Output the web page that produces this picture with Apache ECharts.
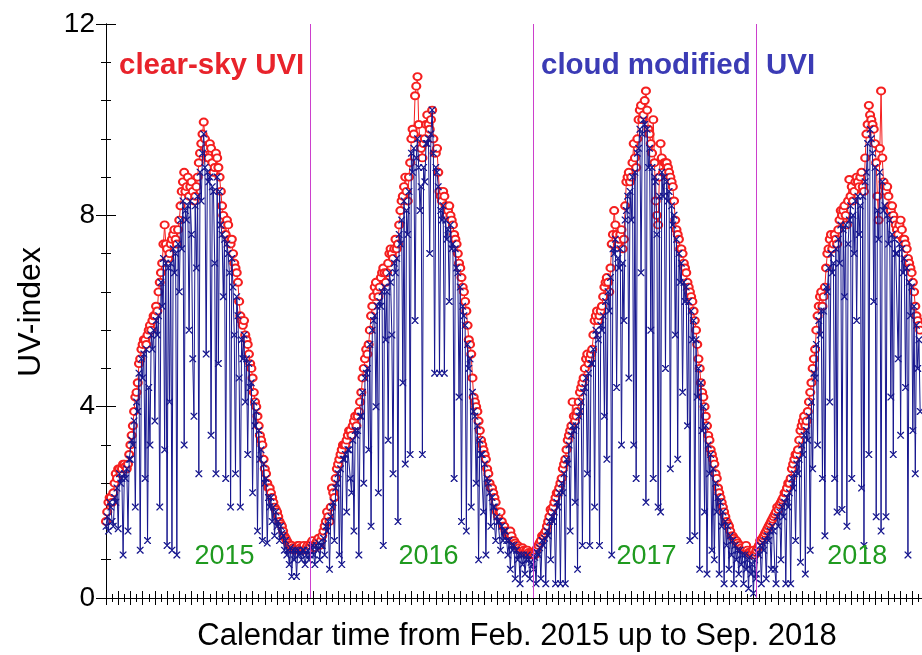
<!DOCTYPE html>
<html>
<head>
<meta charset="utf-8">
<script src="https://cdn.jsdelivr.net/npm/echarts@6/dist/echarts.min.js"></script>
<style>
  html, body { margin: 0; padding: 0; background: #fff; }
  #chart { width: 922px; height: 655px; }
</style>
</head>
<body>
<div id="chart"></div>
<script>
// x is in days since 1 Feb 2015; every season array holds one value per STEP days
const STEP = 2;
const seasonStart = [0, 334, 700, 1065];
const yearBoundaries = [334, 700, 1065]; // 1 Jan 2016 / 2017 / 2018
const yearLabels = ['2015', '2016', '2017', '2018'];
const yearLabelDay = [194, 528, 885, 1230];

const clear2015 = [
  1.6, 1.8, 2.0, 2.1, 2.1, 2.0, 2.2, 2.4, 2.6, 2.5, 2.7, 2.7, 2.6, 2.7, 2.8, 2.8, 2.75, 2.7, 2.8, 3.0,
  3.2, 3.4, 3.6, 3.9, 4.2, 4.3, 4.5, 4.9, 5.0, 5.2, 5.3, 5.4, 5.4, 5.3, 5.5, 5.6, 5.7, 5.6, 5.8, 5.9,
  5.9, 6.1, 6.0, 6.4, 6.6, 6.8, 7.0, 7.4, 7.8, 7.4, 7.3, 7.1, 7.2, 7.4, 7.5, 7.6, 7.7, 7.5, 7.4, 7.7,
  7.9, 8.2, 8.5, 8.7, 8.9, 8.5, 8.6, 8.8, 8.4, 8.6, 8.7, 8.5, 8.3, 8.4, 8.6, 8.8, 9.1, 9.3, 9.5, 9.7,
  9.95, 9.6, 9.4, 9.2, 9.2, 9.5, 9.4, 9.1, 8.9, 9.0, 9.3, 9.2, 9.0, 8.8, 8.5, 8.2, 8.0, 7.8, 7.6, 7.9,
  7.8, 7.5, 7.4, 7.5, 7.2, 7.0, 6.9, 6.8, 6.6, 6.2, 5.9, 5.8, 5.7, 5.8, 5.5, 5.4, 5.3, 5.1, 4.9, 4.8,
  4.6, 4.3, 4.1, 4.0, 3.8, 3.6, 3.4, 3.3, 3.2, 2.9, 2.7, 2.6, 2.4, 2.3, 2.3, 2.2, 2.1, 2.0, 1.9, 1.85,
  1.8, 1.7, 1.6, 1.55, 1.5, 1.4, 1.3, 1.25, 1.2, 1.15, 1.1, 1.1, 1.1, 1.05, 1.0, 1.0, 1.05, 1.1, 1.1, 1.05,
  1.0, 1.05, 1.1, 1.0, 1.05, 1.1, 1.0
];
const cloud2015 = [
  1.5, 1.7, 1.4, 2.0, 1.9, 1.6, 1.5, 2.1, 2.0, 2.3, 1.45, 2.6, 2.4, 2.5, 0.9, 2.6, 2.5, 2.7, 1.4, 2.9,
  2.9, 3.3, 3.2, 3.7, 1.9, 4.1, 3.9, 4.7, 1.0, 5.0, 4.6, 5.1, 2.5, 5.2, 1.2, 4.4, 3.2, 5.5, 5.2, 5.6,
  3.7, 5.8, 5.5, 5.9, 1.9, 6.6, 6.1, 7.1, 3.1, 7.0, 1.1, 6.9, 4.1, 7.0, 1.0, 7.3, 6.8, 7.2, 0.9, 7.4,
  6.4, 7.9, 7.3, 8.3, 3.2, 8.1, 7.9, 8.2, 5.6, 8.3, 7.6, 5.0, 3.8, 8.2, 6.9, 8.4, 2.6, 8.9, 8.3, 9.3,
  9.7, 9.0, 5.1, 8.9, 8.7, 8.8, 3.4, 8.6, 8.5, 7.0, 2.6, 8.8, 4.9, 8.5, 7.8, 7.6, 6.3, 7.5, 2.5, 7.4,
  7.2, 6.8, 1.9, 7.1, 6.5, 5.5, 2.6, 6.3, 5.9, 4.6, 1.9, 5.4, 5.0, 5.5, 4.1, 5.0, 3.0, 4.9, 4.4, 4.5,
  2.2, 4.1, 3.6, 3.9, 1.4, 3.5, 2.9, 3.1, 1.2, 2.8, 2.4, 2.5, 1.15, 2.1, 1.9, 2.1, 1.6, 1.9, 1.3, 1.8,
  1.5, 1.6, 1.2, 1.5, 1.35, 1.3, 1.0, 1.2, 0.9, 1.0, 0.7, 1.05, 0.45, 1.0, 0.8, 1.0, 0.45, 1.0, 0.9, 0.95,
  0.8, 1.0, 1.0, 0.7, 0.9, 1.0, 0.8
];
const clear2016 = [
  1.1, 1.15, 1.2, 1.1, 1.05, 1.15, 1.2, 1.25, 1.1, 1.2, 1.3, 1.4, 1.5, 1.6, 1.8, 1.7, 1.6, 1.9, 2.3, 2.2,
  2.1, 2.5, 2.7, 2.8, 2.9, 3.0, 3.1, 3.2, 3.2, 3.2, 3.3, 3.4, 3.5, 3.5, 3.4, 3.6, 3.7, 3.8, 3.6, 3.8,
  3.9, 4.1, 4.3, 4.6, 4.8, 5.0, 5.2, 5.1, 5.3, 5.6, 5.9, 6.1, 6.3, 6.5, 6.6, 6.4, 6.3, 6.5, 6.7, 6.8,
  6.9, 6.8, 6.6, 6.8, 7.0, 7.2, 7.3, 7.2, 7.1, 7.3, 7.5, 7.3, 7.4, 7.8, 8.1, 8.3, 8.4, 8.6, 8.8, 8.5,
  8.3, 8.8, 9.1, 9.6, 9.8, 9.7, 10.5, 10.7, 10.9, 9.9, 9.6, 9.4, 9.2, 9.5, 9.6, 9.9, 10.1, 9.9, 9.8, 10.0,
  10.2, 9.6, 9.3, 9.3, 9.4, 8.9, 8.5, 8.4, 8.3, 8.5, 8.4, 8.2, 8.0, 8.1, 8.2, 8.0, 7.9, 7.8, 7.6, 7.5,
  7.4, 7.2, 7.0, 6.9, 6.7, 6.5, 6.4, 6.2, 6.0, 5.7, 5.4, 5.3, 5.1, 4.6, 4.2, 4.1, 4.0, 3.9, 3.7, 3.5,
  3.3, 3.2, 3.1, 3.0, 2.9, 2.7, 2.6, 2.4, 2.3, 2.3, 2.2, 2.1, 2.0, 1.8, 1.7, 1.8, 1.8, 1.6, 1.5, 1.5,
  1.4, 1.35, 1.3, 1.35, 1.4, 1.3, 1.2, 1.2, 1.15, 1.1, 1.1, 1.05, 1.0, 1.0, 1.05, 1.0, 0.95, 1.0, 1.0, 0.95,
  0.9, 0.95, 0.95
];
const cloud2016 = [
  0.9, 1.05, 1.1, 0.9, 0.7, 1.1, 1.0, 1.15, 0.8, 1.1, 1.1, 1.25, 0.9, 1.5, 1.4, 1.6, 0.6, 1.7, 1.9, 2.0,
  1.2, 2.3, 2.4, 2.6, 0.9, 2.7, 0.7, 2.9, 2.9, 3.0, 1.8, 3.1, 3.1, 2.5, 2.2, 3.3, 1.4, 3.5, 3.4, 3.5,
  0.9, 3.8, 3.8, 4.3, 2.4, 4.6, 4.7, 4.8, 3.1, 5.3, 1.5, 5.6, 5.8, 5.9, 4.0, 6.1, 2.2, 6.2, 6.1, 6.4,
  1.1, 6.5, 5.4, 6.4, 3.3, 6.8, 6.6, 5.5, 2.6, 7.0, 6.8, 7.1, 1.6, 7.6, 7.4, 7.9, 4.5, 8.3, 2.8, 8.1,
  7.6, 8.5, 3.0, 9.3, 8.9, 9.4, 5.8, 9.2, 9.6, 9.0, 8.1, 8.6, 3.0, 9.0, 8.7, 9.5, 9.5, 9.6, 7.2, 9.7,
  10.2, 9.3, 4.7, 9.0, 8.9, 8.6, 4.7, 8.1, 7.9, 8.2, 4.7, 7.9, 7.5, 7.7, 6.2, 7.8, 7.3, 7.4, 2.5, 7.3,
  6.9, 6.8, 4.2, 6.5, 1.6, 6.1, 5.9, 5.7, 1.4, 5.3, 4.8, 5.0, 1.9, 4.3, 3.9, 3.8, 2.4, 3.6, 0.8, 3.3,
  3.0, 3.0, 1.8, 2.8, 0.9, 2.5, 2.4, 2.2, 1.5, 2.1, 1.9, 1.9, 1.2, 1.7, 1.6, 1.6, 1.0, 1.5, 1.2, 1.4,
  1.4, 1.2, 0.9, 1.2, 0.6, 1.1, 1.0, 1.1, 0.4, 1.0, 0.8, 0.9, 0.3, 0.9, 0.7, 0.9, 0.5, 0.8, 0.9, 0.8,
  0.4, 0.75, 0.7
];
const clear2017 = [
  0.95, 0.9, 1.0, 1.05, 1.1, 1.15, 1.2, 1.3, 1.3, 1.35, 1.4, 1.5, 1.6, 1.7, 1.85, 1.8, 1.9, 2.0, 2.1, 2.2,
  2.2, 2.3, 2.4, 2.5, 2.7, 2.8, 2.9, 3.1, 3.3, 3.4, 3.5, 3.6, 4.1, 3.8, 3.7, 3.8, 3.9, 4.1, 4.3, 4.4,
  4.5, 4.6, 4.8, 5.0, 5.1, 4.9, 5.0, 5.1, 5.2, 5.5, 5.8, 5.9, 6.0, 5.8, 5.9, 6.0, 6.1, 6.3, 6.5, 6.6,
  6.7, 6.6, 6.4, 6.9, 7.4, 7.6, 8.1, 7.8, 7.6, 7.4, 7.5, 7.6, 7.7, 7.3, 7.5, 8.2, 8.7, 8.8, 8.9, 8.7,
  8.8, 9.1, 9.5, 9.2, 9.0, 9.6, 10.0, 10.2, 10.3, 10.0, 10.1, 10.4, 10.6, 10.2, 9.8, 9.7, 9.5, 9.3, 10.0, 9.1,
  8.3, 8.0, 7.8, 8.8, 9.5, 9.2, 8.9, 9.1, 9.1, 9.1, 9.0, 8.9, 8.8, 8.7, 8.6, 8.3, 7.9, 7.7, 7.6, 7.5,
  7.3, 7.3, 7.2, 7.0, 6.9, 6.8, 6.6, 6.5, 6.4, 6.3, 6.2, 6.0, 5.8, 5.6, 5.3, 5.0, 4.8, 4.5, 4.3, 4.2,
  4.0, 3.8, 3.6, 3.4, 3.3, 3.1, 3.0, 2.9, 2.8, 2.6, 2.5, 2.3, 2.2, 2.1, 2.0, 1.9, 1.8, 1.7, 1.6, 1.55,
  1.5, 1.4, 1.3, 1.3, 1.25, 1.2, 1.2, 1.15, 1.1, 1.1, 1.05, 1.0, 1.0, 1.05, 1.1, 1.0, 0.95, 0.95, 0.9, 0.95,
  1.0, 0.9, 0.95
];
const cloud2017 = [
  0.6, 0.85, 0.3, 0.95, 0.9, 1.05, 0.4, 1.2, 1.1, 1.25, 0.3, 1.4, 1.3, 1.6, 0.8, 1.7, 1.6, 1.8, 0.3, 2.0,
  1.9, 2.2, 0.3, 2.4, 2.2, 2.6, 0.3, 2.9, 2.8, 3.2, 1.4, 3.4, 3.6, 3.5, 2.0, 3.6, 0.6, 3.8, 3.9, 4.1,
  1.1, 4.3, 4.4, 4.6, 2.6, 4.7, 1.1, 4.9, 4.9, 5.2, 1.9, 5.6, 5.5, 5.4, 1.1, 5.7, 5.6, 5.9, 3.8, 6.2,
  2.9, 6.4, 6.0, 6.7, 0.9, 7.3, 7.2, 7.5, 4.4, 7.1, 6.9, 7.3, 3.2, 7.0, 5.8, 7.9, 8.1, 8.4, 4.6, 8.5,
  7.9, 8.8, 3.2, 8.9, 2.5, 9.3, 9.4, 9.8, 6.8, 9.7, 10.0, 9.9, 2.0, 9.8, 9.0, 9.4, 5.6, 9.0, 2.5, 8.8,
  8.7, 7.6, 1.9, 8.4, 1.8, 8.9, 8.4, 8.8, 4.8, 8.7, 8.3, 8.5, 2.7, 8.2, 7.8, 8.0, 5.5, 7.5, 2.9, 7.2,
  6.6, 7.0, 4.3, 6.6, 6.2, 6.5, 3.6, 6.2, 1.2, 6.0, 5.4, 5.8, 1.3, 5.4, 4.2, 4.8, 0.6, 4.5, 3.5, 4.0,
  1.8, 3.6, 0.5, 3.2, 2.6, 3.0, 1.0, 2.7, 0.8, 2.4, 1.8, 2.1, 0.5, 2.0, 1.5, 1.8, 0.3, 1.6, 1.1, 1.5,
  0.6, 1.3, 0.9, 1.2, 0.3, 1.1, 0.8, 1.0, 0.5, 1.0, 0.7, 0.9, 0.3, 0.9, 0.6, 0.8, 0.2, 0.85, 0.5, 0.7,
  0.1, 0.8, 0.4
];
const clear2018 = [
  1.0, 1.05, 1.1, 1.2, 1.2, 1.25, 1.3, 1.35, 1.4, 1.45, 1.5, 1.55, 1.6, 1.65, 1.7, 1.75, 1.8, 1.9, 1.85, 1.95,
  2.0, 2.05, 2.1, 2.2, 2.2, 2.3, 2.4, 2.4, 2.5, 2.7, 2.8, 2.9, 3.0, 3.0, 3.1, 3.3, 3.5, 3.6, 3.7, 3.8,
  3.6, 3.7, 3.9, 4.1, 4.3, 4.5, 4.8, 5.0, 5.2, 5.6, 5.9, 6.1, 6.3, 6.4, 6.1, 6.3, 6.5, 6.9, 7.2, 7.3,
  7.5, 7.6, 7.3, 7.4, 7.6, 7.5, 7.4, 7.7, 7.9, 8.1, 8.0, 8.1, 8.2, 8.0, 7.8, 8.3, 8.75, 8.4, 8.6, 8.3,
  8.5, 8.7, 8.8, 8.7, 8.6, 8.8, 8.9, 8.6, 8.5, 9.2, 9.7, 9.9, 10.3, 10.1, 10.0, 9.9, 9.8, 9.5, 9.1, 8.4,
  7.9, 9.4, 10.6, 9.2, 8.7, 8.6, 8.5, 8.6, 8.4, 8.2, 8.1, 8.2, 8.0, 7.9, 7.8, 7.7, 7.6, 7.8, 7.9, 7.7,
  7.5, 7.5, 7.4, 7.3, 7.1, 7.0, 6.9, 6.8, 6.6, 6.4, 6.1, 5.9, 5.8, 5.7, 5.6
];
const cloud2018 = [
  0.5, 0.95, 0.9, 1.1, 0.3, 1.15, 1.0, 1.2, 0.4, 1.3, 1.2, 1.4, 0.6, 1.5, 1.4, 0.6, 0.3, 1.7, 1.5, 1.8,
  0.8, 1.9, 1.7, 2.0, 0.3, 2.1, 1.9, 2.2, 0.3, 2.5, 2.3, 2.6, 1.2, 2.8, 2.6, 2.9, 0.75, 3.2, 3.0, 3.4,
  0.5, 3.5, 3.3, 3.8, 1.0, 4.1, 2.7, 4.7, 4.6, 5.3, 3.2, 5.8, 5.5, 6.0, 2.5, 6.0, 1.3, 6.5, 6.4, 6.9,
  4.1, 7.2, 6.8, 7.0, 2.5, 7.3, 1.8, 7.5, 7.0, 7.8, 1.85, 7.7, 6.3, 7.8, 1.5, 7.4, 7.9, 8.2, 2.5, 8.0,
  7.2, 8.3, 5.8, 8.4, 7.6, 8.2, 2.3, 8.4, 1.1, 8.7, 8.9, 9.5, 3.0, 9.8, 9.6, 9.3, 6.2, 9.0, 1.7, 8.1,
  7.5, 8.9, 1.4, 8.7, 8.1, 8.2, 1.7, 8.0, 7.4, 7.9, 4.2, 7.6, 3.0, 7.5, 7.2, 7.2, 5.0, 7.4, 3.4, 7.3,
  6.8, 7.1, 4.4, 6.9, 0.9, 6.6, 5.9, 6.5, 3.5, 6.1, 2.6, 5.7, 4.8, 5.4, 3.9
];

const clearSeasons = [clear2015, clear2016, clear2017, clear2018];
const cloudSeasons = [cloud2015, cloud2016, cloud2017, cloud2018];

function toPairs(seasons) {
  const out = [];
  seasons.forEach((vals, s) => {
    vals.forEach((v, i) => out.push([seasonStart[s] + i * STEP, v]));
  });
  return out;
}

const FONT = "'Liberation Sans', Arial, Helvetica, sans-serif";
const RED = '#f51f1f';
const NAVY = '#16168e';
const X_SYMBOL = 'path://M0,0L1.6,0L5,3.6L8.4,0L10,0L10,1.2L5.9,5L10,8.8L10,10L8.4,10L5,6.4L1.6,10L0,10L0,8.8L4.1,5L0,1.2Z';

const xAxisBase = {
  type: 'value', min: 0, max: 1336, interval: 20,
  axisLine: { show: true, lineStyle: { color: '#000', width: 1 } },
  axisTick: { show: true, inside: true, length: 7, lineStyle: { color: '#000' } },
  minorTick: { show: true, splitNumber: 2, length: 4, lineStyle: { color: '#000' } },
  axisLabel: { show: false },
  splitLine: { show: false }
};
const yAxisBase = {
  type: 'value', min: 0, max: 12, interval: 4,
  axisLine: { show: true, lineStyle: { color: '#000', width: 1 } },
  axisTick: { show: true, inside: true, length: 10, lineStyle: { color: '#000' } },
  minorTick: { show: true, splitNumber: 5, length: 5, lineStyle: { color: '#000' } },
  splitLine: { show: false }
};

const chart = echarts.init(document.getElementById('chart'), null, { renderer: 'canvas' });

chart.setOption({
  animation: false,
  backgroundColor: '#fff',
  grid: { left: 106, right: -4, top: 24, bottom: 57, containLabel: false },
  xAxis: [
    Object.assign({}, xAxisBase, { position: 'bottom' }),
    Object.assign({}, xAxisBase, { position: 'top' })
  ],
  yAxis: [
    Object.assign({}, yAxisBase, {
      position: 'left',
      axisLabel: { show: true, color: '#000', fontSize: 28, fontFamily: FONT, margin: 11 }
    }),
    Object.assign({}, yAxisBase, { position: 'right', axisLabel: { show: false } })
  ],
  series: [
    {
      // year boundaries
      type: 'line', data: [], silent: true, z: 1,
      markLine: {
        silent: true, symbol: 'none', animation: false,
        label: { show: false },
        lineStyle: { color: '#cc3fcc', width: 1, type: 'solid' },
        data: yearBoundaries.map(d => ({ xAxis: d }))
      }
    },
    {
      name: 'clear-sky UVI', type: 'line', z: 2,
      data: toPairs(clearSeasons),
      symbol: 'emptyCircle', symbolSize: [8, 7], showAllSymbol: true,
      lineStyle: { color: RED, width: 1 },
      itemStyle: { color: RED, borderColor: RED, borderWidth: 1 },
      emphasis: { disabled: true }
    },
    {
      name: 'cloud modified UVI', type: 'line', z: 3,
      data: toPairs(cloudSeasons),
      symbol: X_SYMBOL, symbolSize: 7, showAllSymbol: true,
      lineStyle: { color: NAVY, width: 1 },
      itemStyle: { color: NAVY },
      emphasis: { disabled: true }
    }
  ]
});

// texts; year labels are placed through the x scale
const yearText = yearLabels.map((t, i) => {
  const p = chart.convertToPixel({ xAxisIndex: 0, yAxisIndex: 0 }, [yearLabelDay[i], 0.86]);
  return {
    type: 'text', z: 10, x: p[0], y: p[1],
    style: { text: t, fill: '#1f9a1f', font: '27px ' + FONT, align: 'center', verticalAlign: 'middle' }
  };
});

chart.setOption({
  graphic: [
    { type: 'text', z: 10, x: 119, y: 66,
      style: { text: 'clear-sky UVI', fill: '#e8232b', font: 'bold 29.5px ' + FONT, verticalAlign: 'middle' } },
    { type: 'text', z: 10, x: 541, y: 66,
      style: { text: 'cloud modified', fill: '#3b3bb5', font: 'bold 29.5px ' + FONT, verticalAlign: 'middle' } },
    { type: 'text', z: 10, x: 766, y: 66,
      style: { text: 'UVI', fill: '#3b3bb5', font: 'bold 29.5px ' + FONT, verticalAlign: 'middle' } },
    { type: 'text', z: 10, x: 31, y: 312, rotation: Math.PI / 2,
      style: { text: 'UV-index', fill: '#000', font: '32px ' + FONT, align: 'center', verticalAlign: 'middle' } },
    { type: 'text', z: 10, x: 517, y: 636,
      style: { text: 'Calendar time from Feb. 2015 up to Sep. 2018', fill: '#000', font: '31px ' + FONT, align: 'center', verticalAlign: 'middle' } }
  ].concat(yearText)
});
</script>
</body>
</html>
